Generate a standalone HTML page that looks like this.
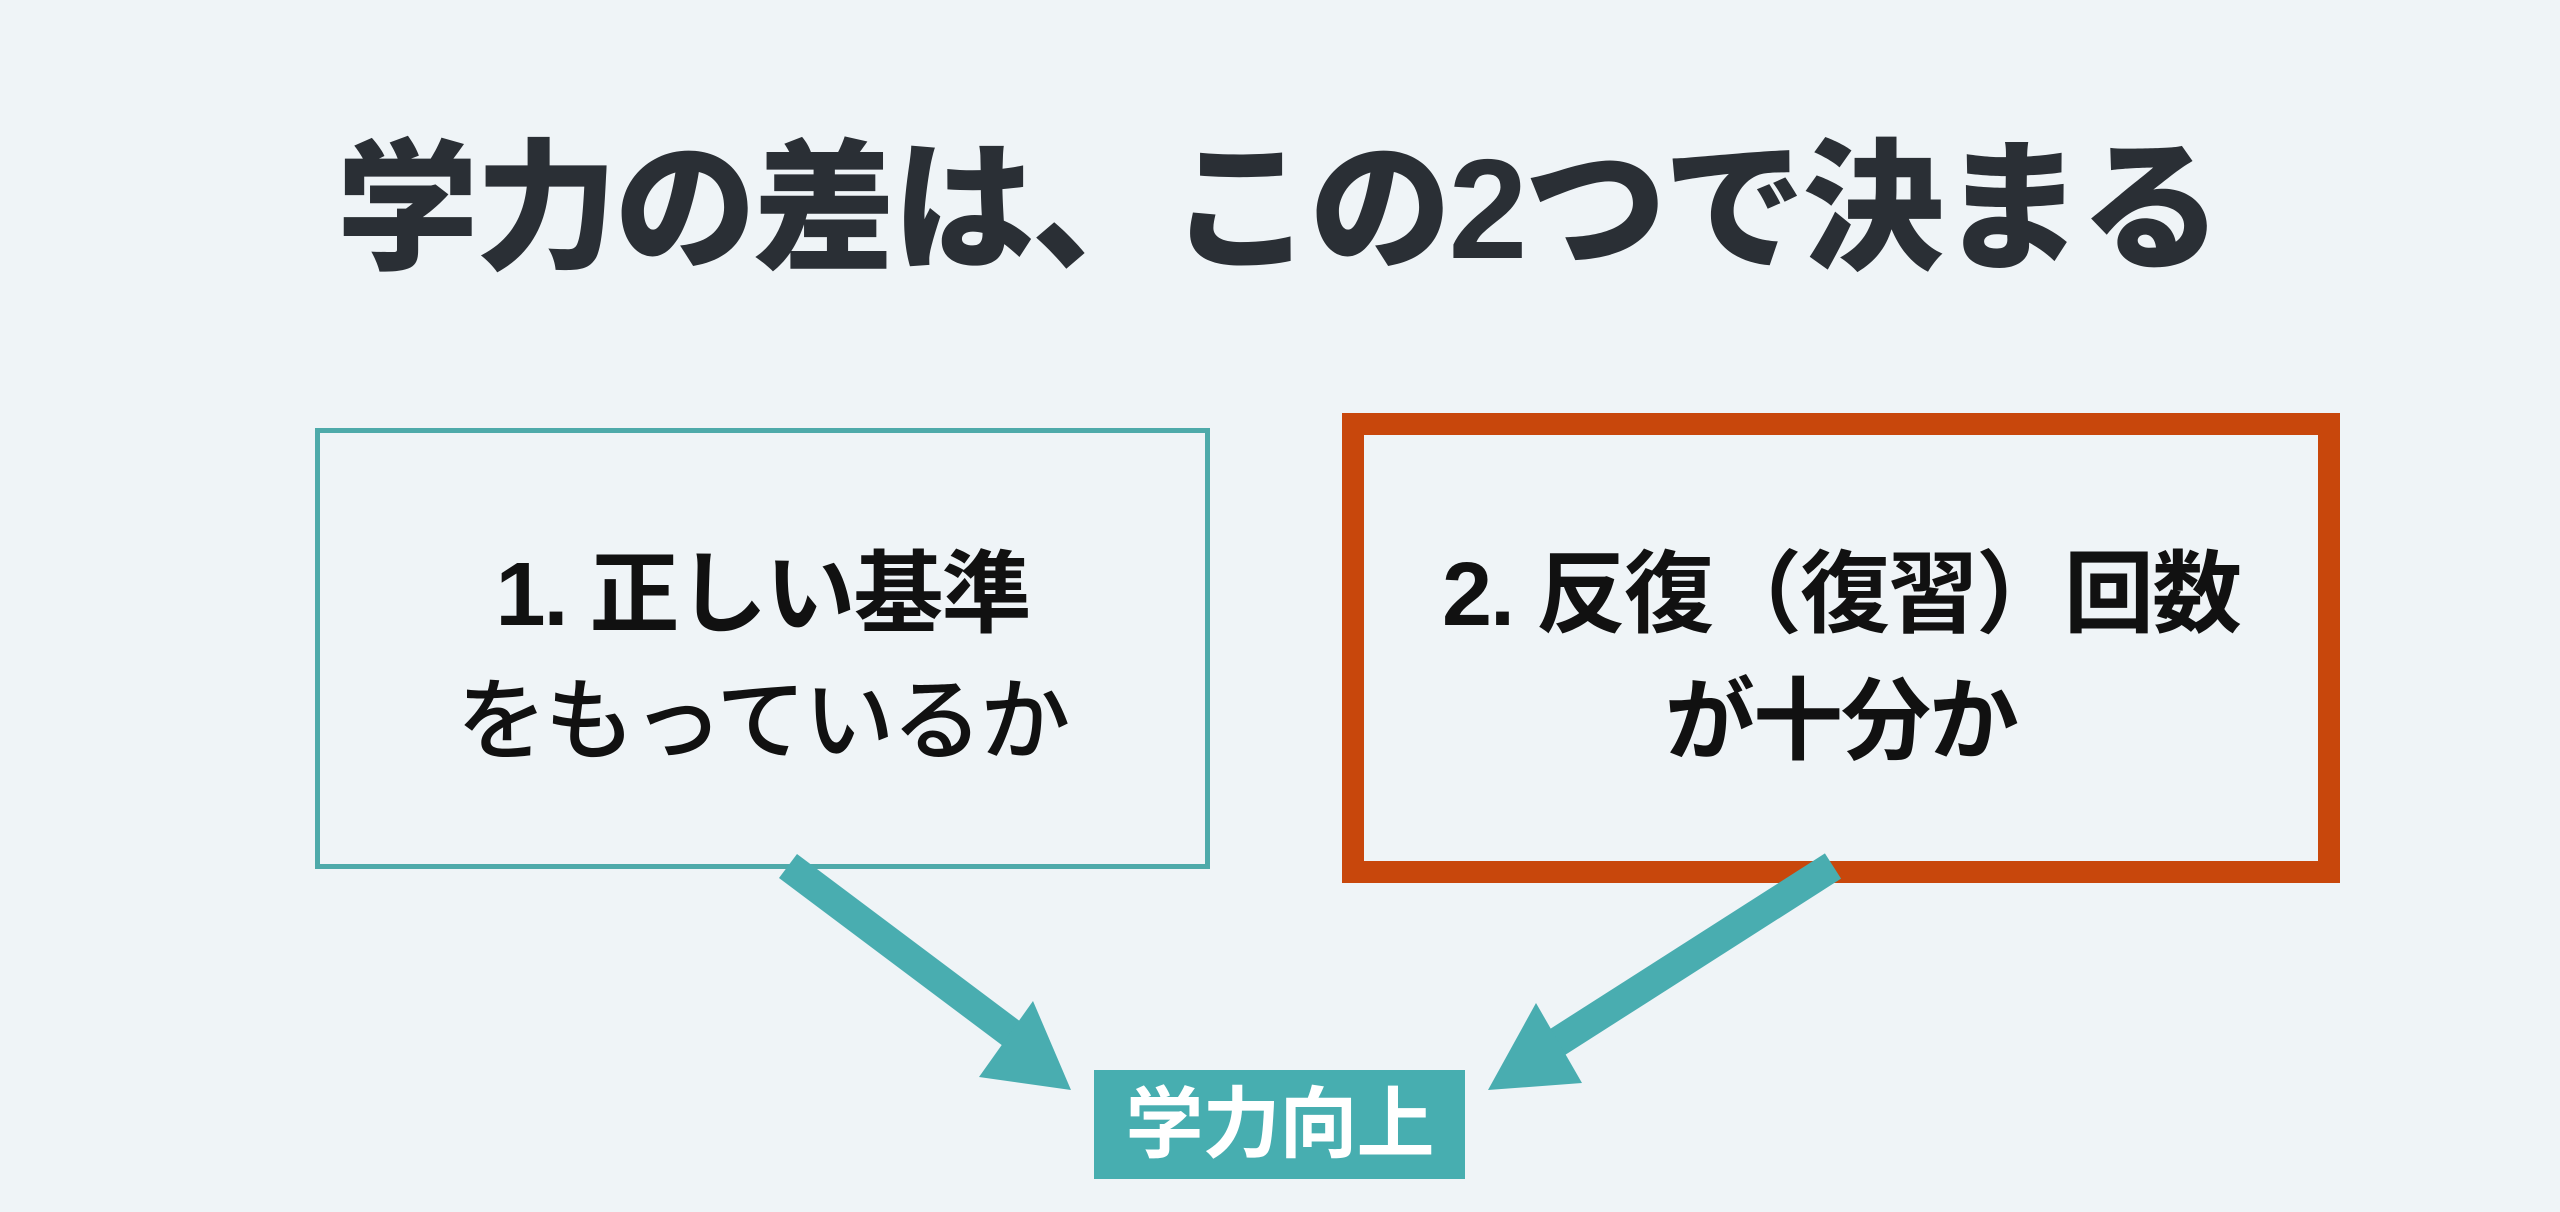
<!DOCTYPE html>
<html><head><meta charset="utf-8"><style>
html,body{margin:0;padding:0;}
body{width:2560px;height:1212px;background:#eff4f7;position:relative;overflow:hidden;font-family:"Liberation Sans","Noto Sans CJK JP",sans-serif;}
.t{position:absolute;white-space:nowrap;text-align:center;}
#title{left:0;width:2556px;top:120px;font-size:142px;line-height:180px;font-weight:900;color:#2a2f35;letter-spacing:-3px;}
.box{position:absolute;box-sizing:border-box;}
</style></head><body>
<div id="title" class="t">学力の差は、この2つで決まる</div>
<div class="box" style="left:315px;top:428px;width:895px;height:441px;border:5px solid #4eaaaa;"></div>
<div class="box" style="left:1342px;top:413px;width:998px;height:470px;border:22px solid #c8470c;"></div>
<div class="t" style="left:315px;width:895px;top:545px;font-size:90px;line-height:100px;font-weight:700;color:#111;letter-spacing:-2px;">1. 正しい基準</div>
<div class="t" style="left:315px;width:895px;top:672px;font-size:90px;line-height:100px;font-weight:500;color:#111;letter-spacing:-2px;">をもっているか</div>
<div class="t" style="left:1342px;width:998px;top:545px;font-size:90px;line-height:100px;font-weight:700;color:#111;letter-spacing:-2px;">2. 反復（復習）回数</div>
<div class="t" style="left:1342px;width:998px;top:672px;font-size:90px;line-height:100px;font-weight:700;color:#111;letter-spacing:-2px;">が十分か</div>
<svg width="2560" height="1212" style="position:absolute;left:0;top:0">
<line x1="788" y1="866" x2="1020" y2="1040" stroke="#49adb0" stroke-width="30"/>
<polygon points="1071,1090 1033,1001 979,1077" fill="#49adb0"/>
<line x1="1833" y1="866" x2="1545" y2="1050" stroke="#49adb0" stroke-width="30"/>
<polygon points="1488,1090 1536,1003 1582,1083" fill="#49adb0"/>
</svg>
<div class="box" style="left:1094px;top:1070px;width:371px;height:109px;background:#47aeb0;"></div>
<div class="t" style="left:1094px;width:371px;top:1078px;font-size:78px;line-height:92px;font-weight:700;color:#fff;letter-spacing:-1px;">学力向上</div>
</body></html>
